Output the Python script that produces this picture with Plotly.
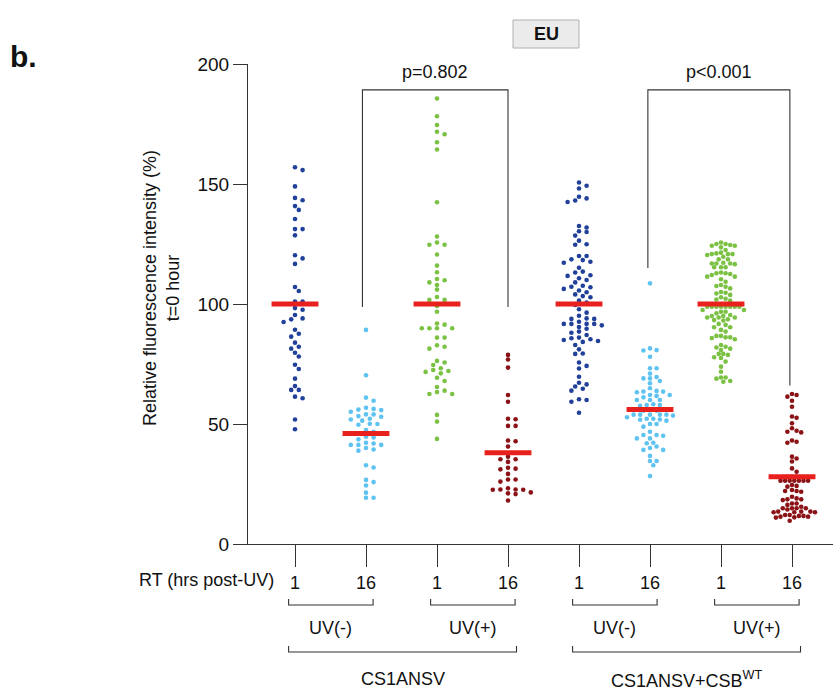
import numpy as np
import plotly.graph_objects as go

# ---- measurements (% of t=0 EU intensity), one list per condition ----
cs1ansv_uvneg_1h = [157.0, 155.8, 149.0, 144.2, 143.2, 140.8, 139.2, 135.4, 131.2, 131.2, 128.6, 120.3,
                    119.0, 116.7, 107.1, 105.4, 101.0, 101.0, 98.3, 97.6, 95.4, 94.0, 93.6, 92.5, 89.3,
                    87.6, 86.4, 83.9, 82.2, 81.4, 79.7, 78.1, 74.7, 72.9, 68.9, 65.8, 64.2, 64.2, 61.4,
                    60.7, 51.9, 47.8]
cs1ansv_uvneg_16h = [89.2, 70.3, 61.0, 59.7, 56.8, 56.3, 56.0, 55.8, 55.1, 54.0, 54.0, 53.3, 53.0, 52.2,
                     51.9, 51.4, 50.0, 49.7, 50.1, 47.5, 46.7, 46.1, 44.7, 44.4, 43.6, 42.2, 41.9, 41.3,
                     41.3, 41.3, 40.0, 39.4, 38.9, 32.8, 31.9, 26.7, 25.8, 24.4, 21.4, 19.3, 19.3]
cs1ansv_uvpos_1h = [185.6, 178.2, 174.6, 171.8, 170.7, 167.4, 164.4, 142.4, 128.1, 125.6, 124.7, 124.7,
                    120.6, 116.0, 113.2, 110.4, 109.9, 109.0, 107.9, 106.0, 102.9, 101.7, 101.7, 99.2,
                    96.8, 91.9, 91.4, 89.9, 89.9, 89.9, 89.9, 86.0, 86.0, 82.8, 81.4, 82.2, 76.3, 75.6,
                    74.6, 73.2, 72.5, 71.7, 71.1, 72.1, 69.3, 67.9, 65.4, 63.9, 63.3, 62.5, 62.5, 53.8,
                    51.0, 43.8]
cs1ansv_uvpos_16h = [78.8, 76.9, 73.5, 62.1, 59.3, 52.0, 52.2, 49.2, 49.2, 43.1, 42.8, 40.6, 36.4, 35.3,
                     35.3, 34.2, 31.1, 31.4, 31.8, 29.2, 26.9, 26.9, 26.0, 23.2, 22.6, 22.6, 22.7, 22.7,
                     21.5, 21.1, 20.8, 18.1]
csb_uvneg_1h = [150.6, 149.3, 148.1, 144.0, 143.1, 142.5, 144.7, 131.9, 132.5, 130.0, 130.3, 128.5, 126.4,
                124.9, 124.7, 120.0, 120.0, 118.3, 118.6, 117.6, 117.2, 115.1, 113.5, 113.1, 112.0, 111.7,
                110.7, 110.0, 109.0, 107.6, 107.0, 107.2, 106.3, 105.6, 104.9, 104.0, 103.3, 102.8, 101.4,
                100.6, 99.6, 97.8, 96.4, 95.1, 94.0, 93.8, 93.8, 92.6, 91.7, 91.7, 91.7, 91.7, 91.1, 90.4,
                89.7, 88.5, 88.0, 87.1, 86.0, 85.7, 85.3, 85.0, 84.6, 84.2, 82.9, 81.1, 79.2, 79.4, 75.6,
                74.2, 73.1, 69.7, 67.2, 66.5, 65.6, 64.7, 63.9, 60.3, 60.0, 59.3, 54.7]
csb_uvneg_16h = [108.6, 80.6, 81.5, 80.8, 78.0, 73.2, 73.2, 71.0, 69.6, 69.0, 67.9, 69.0, 67.0, 64.9, 63.8,
                 63.2, 63.5, 63.5, 62.1, 62.1, 61.7, 61.1, 60.0, 60.0, 60.0, 58.2, 57.9, 57.9, 57.6, 56.0,
                 55.5, 55.5, 53.9, 53.9, 53.9, 53.9, 53.9, 52.2, 52.2, 52.8, 53.5, 51.8, 51.4, 51.9, 50.0,
                 50.0, 48.9, 46.8, 45.1, 45.4, 45.4, 44.0, 44.0, 42.0, 42.2, 40.6, 40.0, 39.2, 39.2, 36.7,
                 34.6, 34.6, 32.8, 28.3]
csb_uvpos_1h = [125.6, 125.0, 125.0, 124.6, 124.3, 124.3, 123.6, 122.5, 121.1, 120.8, 120.8, 121.4, 120.8,
                120.4, 119.7, 118.6, 118.6, 116.9, 116.9, 116.6, 116.9, 117.2, 115.3, 115.3, 115.3, 112.8,
                112.5, 111.4, 113.1, 112.8, 111.4, 112.1, 110.3, 109.3, 107.9, 107.2, 107.5, 106.5, 104.7,
                105.0, 104.4, 103.8, 102.8, 101.9, 102.2, 101.4, 98.9, 98.9, 98.9, 98.9, 98.9, 98.9, 98.9,
                98.9, 97.5, 97.5, 96.8, 96.8, 96.1, 95.4, 95.0, 95.0, 94.4, 94.4, 94.4, 93.6, 93.1, 93.3,
                91.7, 91.3, 90.3, 90.3, 89.2, 88.5, 86.7, 86.1, 86.7, 86.1, 85.8, 85.3, 82.9, 82.2, 81.9,
                81.4, 80.8, 79.2, 79.2, 78.8, 77.8, 77.5, 76.0, 73.9, 71.8, 69.4, 68.9, 69.4, 67.9, 67.6]
csb_uvpos_16h = [62.5, 62.1, 61.4, 59.7, 57.2, 53.1, 52.6, 50.3, 47.2, 46.5, 46.8, 48.2, 43.1, 42.6, 42.2,
                 36.4, 35.6, 34.4, 31.5, 30.1, 28.0, 28.0, 28.0, 26.4, 26.4, 26.4, 26.4, 26.4, 26.4, 26.4,
                 24.6, 24.2, 23.9, 22.1, 21.8, 22.5, 22.1, 19.7, 19.0, 18.3, 18.6, 18.6, 16.9, 16.9, 16.3,
                 15.5, 14.9, 14.9, 14.4, 14.9, 14.9, 13.5, 13.5, 13.2, 13.5, 13.2, 13.2, 12.1, 11.7, 11.7,
                 12.1, 11.4, 11.4, 11.0, 11.1, 9.7]

group_means = [100, 46, 100, 38, 100, 56, 100, 28]
rt_labels = ["1", "16", "1", "16", "1", "16", "1", "16"]
uv_labels = ["UV(-)", "UV(+)", "UV(-)", "UV(+)"]
cell_labels = ["CS1ANSV", "CS1ANSV+CSB<sup>WT</sup>"]
p_labels = ["p=0.802", "p<0.001"]

groups = [cs1ansv_uvneg_1h, cs1ansv_uvneg_16h, cs1ansv_uvpos_1h, cs1ansv_uvpos_16h,
          csb_uvneg_1h, csb_uvneg_16h, csb_uvpos_1h, csb_uvpos_16h]
colors = ["#21409a", "#5ec3f0", "#7bc143", "#8b1216",
          "#21409a", "#5ec3f0", "#7bc143", "#8b1216"]

# ---- geometry ----
W, H = 833, 695
ML, MR, MT, MB = 248, 0, 64, 151
PW, PH = W - ML - MR, H - MT - MB
CAT_PX = 71.0                     # pixels between neighbouring categories
X0 = -47.0 / CAT_PX               # first category sits 47 px right of the y axis
X_RANGE = [X0, X0 + PW / CAT_PX]
Y_RANGE = [0, 200]
Y_PX = PH / (Y_RANGE[1] - Y_RANGE[0])

FONT = "Liberation Sans, Arial, Helvetica, sans-serif"
INK = "#333333"


def xp(pos):
    return (pos - X_RANGE[0]) / (X_RANGE[1] - X_RANGE[0])


def yp(py):
    return (MT + PH - py) / PH


def swarm_offsets(values, dx_px=7.6, dy_px=4.4, half_width_px=23.0):
    """Greedy swarm on a half-column grid with elliptical clearance,
    squeezed afterwards so the cloud never exceeds the column width."""
    vals = np.asarray(values, float)
    order = np.argsort(-vals, kind="stable")
    ys = vals * Y_PX
    step = dx_px / 2.0
    placed = []
    offs = np.zeros(len(vals))
    for i in order:
        for k in range(0, 60):
            cands = [0.0] if k == 0 else [k * step, -k * step]
            ok = None
            for c in cands:
                if all(((c - px) / dx_px) ** 2 + ((ys[i] - py) / dy_px) ** 2 >= 0.98
                       for px, py in placed):
                    ok = c
                    break
            if ok is not None:
                offs[i] = ok
                placed.append((ok, ys[i]))
                break
    widest = np.abs(offs).max()
    if widest > half_width_px:
        offs *= half_width_px / widest
    return offs / CAT_PX


fig = go.Figure()

for i, (vals, col) in enumerate(zip(groups, colors)):
    xs = i + swarm_offsets(vals)
    fig.add_trace(go.Scatter(x=xs, y=vals, mode="markers",
                             marker=dict(size=4.6, color=col, line=dict(width=0)),
                             showlegend=False, hoverinfo="y"))

for i, m in enumerate(group_means):
    fig.add_trace(go.Scatter(x=[i - 0.33, i + 0.33], y=[m, m], mode="lines",
                             line=dict(color="#e8201e", width=5),
                             showlegend=False, hoverinfo="skip"))

shapes = []
annotations = []


def label(x, y, text, size=18, xref="paper", yref="paper", **kw):
    d = dict(x=x, y=y, xref=xref, yref=yref, text=text, showarrow=False,
             xanchor="center", yanchor="middle",
             font=dict(size=size, color="#111", family=FONT))
    d.update(kw)
    annotations.append(d)


# significance brackets
y_top = 189.2
for (xa, ya), (xb, yb), lab in zip([(0.95, 98.8), (4.97, 115.0)],
                                   [(3.0, 98.8), (6.97, 66.0)], p_labels):
    shapes.append(dict(type="path", xref="x", yref="y",
                       path=f"M {xa},{ya} L {xa},{y_top} L {xb},{y_top} L {xb},{yb}",
                       line=dict(color=INK, width=1.1)))
    label((xa + xb) / 2, 196.5, lab, xref="x", yref="y")

# condition brackets under the axis
for k, lab in enumerate(uv_labels):
    a, b = xp(2 * k - 0.09), xp(2 * k + 1 + 0.1)
    shapes.append(dict(type="path", xref="paper", yref="paper",
                       path=f"M {a},{yp(599)} L {a},{yp(605)} L {b},{yp(605)} L {b},{yp(599)}",
                       line=dict(color=INK, width=1.1)))
    label((a + b) / 2, yp(628), lab)

for k, lab in enumerate(cell_labels):
    a, b = xp(4 * k - 0.09), xp(4 * k + 3 + 0.12)
    shapes.append(dict(type="path", xref="paper", yref="paper",
                       path=f"M {a},{yp(646)} L {a},{yp(652)} L {b},{yp(652)} L {b},{yp(646)}",
                       line=dict(color=INK, width=1.1)))
    label((a + b) / 2, yp(679), lab)

label((276 - ML) / PW, yp(580), "RT (hrs post-UV)", xanchor="right")

# panel title box
shapes.append(dict(type="rect", xref="paper", yref="paper",
                   x0=(513 - ML) / PW, x1=(579 - ML) / PW, y0=yp(48), y1=yp(20),
                   fillcolor="#ebebeb", line=dict(color="#b0b0b0", width=1)))
label((546 - ML) / PW, yp(34), "<b>EU</b>")

label((8 - ML) / PW, yp(57), "<b>b.</b>", size=30, xanchor="left")

label((161 - ML) / PW, yp(288), "Relative fluorescence intensity (%)<br>t=0 hour", textangle=-90)

fig.update_layout(
    width=W, height=H,
    margin=dict(l=ML, r=MR, t=MT, b=MB, pad=0),
    paper_bgcolor="white", plot_bgcolor="white",
    shapes=shapes, annotations=annotations,
    font=dict(family=FONT, color="#111"),
    xaxis=dict(range=X_RANGE, showgrid=False, zeroline=False, showline=True,
               linecolor=INK, linewidth=1.2, ticks="outside", ticklen=22,
               tickcolor=INK, tickwidth=1.2, tickvals=list(range(8)), ticktext=rt_labels,
               tickfont=dict(size=18, color="#111", family=FONT)),
    yaxis=dict(range=Y_RANGE, showgrid=False, zeroline=False, showline=True,
               linecolor=INK, linewidth=1.2, ticks="outside", ticklen=14,
               tickcolor=INK, tickwidth=1.2, tickvals=[0, 50, 100, 150, 200],
               tickfont=dict(size=19, color="#111", family=FONT)),
)

fig.write_html("out.html")
